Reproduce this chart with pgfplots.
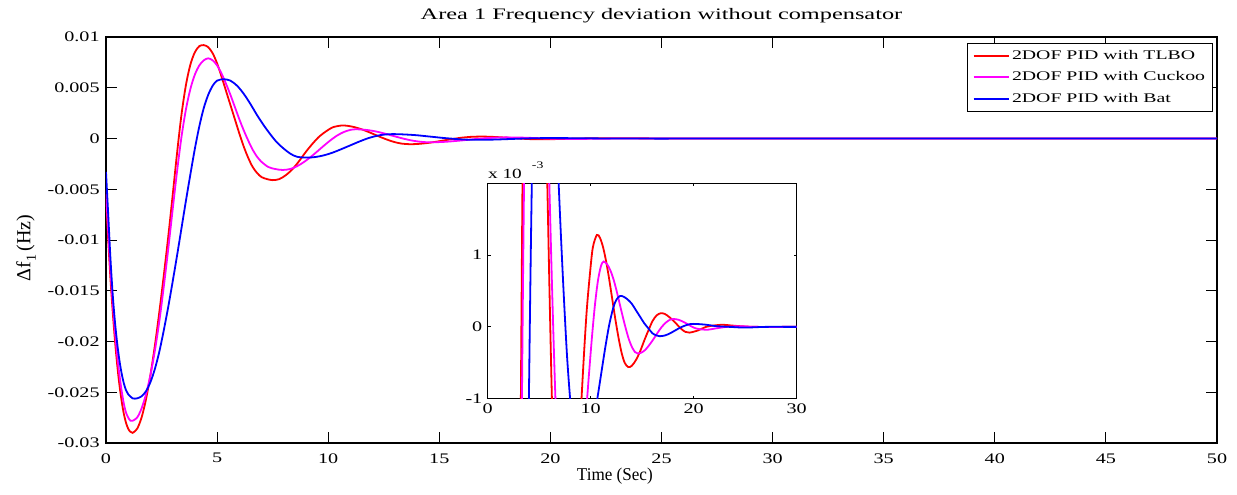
\documentclass[border=0pt]{standalone}
\usepackage{fontspec}
\setmainfont{Liberation Serif}
\newfontfamily\tickfont{Liberation Serif}[FakeStretch=1.38]
\newfontfamily\titlefont{Liberation Serif}[FakeStretch=1.52]
\newfontfamily\legfont{Liberation Serif}[FakeStretch=1.5]
\newfontfamily\xlabfont{Liberation Serif}[FakeStretch=0.95]
\usepackage{pgfplots}
\usepackage{pgfplotstable}
\pgfplotsset{compat=1.18}

\pgfplotstableread{
t v
0 -0.0055
0.1 -0.0100
0.2 -0.0138
0.3 -0.0170
0.4 -0.0198
0.5 -0.0222
0.6 -0.0242
0.7 -0.0258
0.8 -0.0271
0.9 -0.0280
1.0 -0.0286
1.1 -0.0289
1.2 -0.0290
1.4 -0.0286
1.6 -0.0275
1.8 -0.0257
2.0 -0.0233
2.2 -0.0204
2.4 -0.0171
2.6 -0.0135
2.8 -0.0097
3.0 -0.0056
3.2 -0.0014
3.4 0.0024
3.6 0.0053
3.8 0.0073
4.0 0.0085
4.2 0.0091
4.4 0.0092
4.6 0.0090
4.8 0.0084
5.0 0.0074
5.2 0.0061
5.4 0.0047
5.6 0.0033
5.8 0.0019
6.0 0.0005
6.2 -0.0008
6.4 -0.0019
6.6 -0.0028
6.8 -0.0034
7.0 -0.0038
7.25 -0.0040
7.5 -0.0041
7.8 -0.0040
8.1 -0.0036
8.4 -0.0030
8.7 -0.0022
9.0 -0.0013
9.3 -0.0005
9.6 0.0002
9.9 0.0007
10.2 0.0011
10.6 0.00128
10.9 0.00124
11.2 0.00111
11.5 0.00091
11.8 0.00066
12.1 0.00038
12.4 0.00010
12.7 -0.00015
13.0 -0.00036
13.3 -0.00050
13.65 -0.00056
14.0 -0.00054
14.4 -0.00046
14.8 -0.00034
15.2 -0.00019
15.6 -0.00005
16.0 0.00008
16.4 0.00016
16.8 0.00019
17.2 0.00018
17.6 0.00014
18.0 0.00009
18.4 0.00003
18.8 -0.00003
19.2 -0.00007
19.6 -0.00008
20.4 -0.00005
21.2 0.00000
22.0 0.00002
22.8 0.00003
23.6 0.00002
24.5 0.00001
26 0
30 0
35 0
40 0
45 0
50 0
}\redtab

\pgfplotstableread{
t v
0 -0.0050
0.1 -0.0092
0.2 -0.0130
0.3 -0.0161
0.4 -0.0189
0.5 -0.0213
0.6 -0.0232
0.7 -0.0248
0.8 -0.0261
0.9 -0.0270
1.0 -0.0275
1.1 -0.0278
1.2 -0.0278
1.4 -0.0275
1.6 -0.0266
1.8 -0.0252
2.0 -0.0233
2.2 -0.0209
2.4 -0.0180
2.6 -0.0146
2.8 -0.0109
3.0 -0.0070
3.2 -0.0032
3.4 0.0002
3.6 0.0029
3.8 0.0049
4.0 0.0063
4.2 0.0072
4.4 0.0077
4.6 0.0079
4.8 0.0077
5.0 0.0072
5.2 0.0064
5.4 0.0054
5.6 0.0043
5.8 0.0031
6.0 0.0019
6.2 0.0008
6.4 -0.0002
6.6 -0.0011
6.8 -0.0018
7.0 -0.0023
7.3 -0.0028
7.6 -0.0030
7.95 -0.0031
8.3 -0.0030
8.6 -0.00273
8.9 -0.00233
9.2 -0.00184
9.5 -0.00129
9.8 -0.00072
10.1 -0.00018
10.4 0.00029
10.7 0.00064
11.0 0.00085
11.25 0.00091
11.6 0.00087
11.9 0.00079
12.2 0.00067
12.5 0.00051
12.8 0.00033
13.1 0.00015
13.4 -0.00002
13.7 -0.00017
14.0 -0.00028
14.3 -0.00035
14.55 -0.00037
14.9 -0.00036
15.3 -0.00032
15.7 -0.00025
16.1 -0.00017
16.5 -0.00008
16.9 0.00000
17.3 0.00006
17.7 0.00010
18.0 0.00011
18.5 0.00010
19.0 0.00007
19.5 0.00003
20.0 -0.00001
20.5 -0.00003
21.3 -0.00004
22.2 -0.00002
23.2 0.00000
24.5 0.00001
26 0
30 0
35 0
40 0
45 0
50 0
}\magtab

\pgfplotstableread{
t v
0 -0.0033
0.1 -0.0075
0.2 -0.0118
0.3 -0.0153
0.4 -0.0180
0.5 -0.0201
0.6 -0.0218
0.7 -0.0231
0.8 -0.0241
0.9 -0.0248
1.0 -0.0252
1.2 -0.0256
1.4 -0.0256
1.6 -0.0254
1.8 -0.0249
2.0 -0.0240
2.2 -0.0227
2.4 -0.0210
2.6 -0.0189
2.8 -0.0166
3.0 -0.0141
3.2 -0.0115
3.4 -0.0088
3.6 -0.0061
3.8 -0.0035
4.0 -0.0010
4.2 0.0012
4.4 0.0030
4.6 0.0043
4.8 0.0052
5.0 0.0057
5.3 0.00584
5.6 0.0057
5.9 0.0052
6.2 0.0044
6.5 0.0034
6.8 0.0023
7.1 0.0013
7.4 0.0004
7.7 -0.0004
8.0 -0.0010
8.3 -0.0015
8.6 -0.0018
9.03 -0.00188
9.4 -0.00183
9.8 -0.00166
10.2 -0.00139
10.6 -0.00104
11.0 -0.00067
11.4 -0.00030
11.8 0.00003
12.2 0.00027
12.5 0.00038
12.85 0.00043
13.2 0.00042
13.6 0.00038
14.0 0.00032
14.4 0.00023
14.8 0.00014
15.2 0.00005
15.6 -0.00002
16.0 -0.00009
16.4 -0.00012
16.7 -0.00013
17.2 -0.00012
17.7 -0.00009
18.2 -0.00005
18.7 -0.00001
19.2 0.00002
19.7 0.00004
20.3 0.00004
21.2 0.00003
22.2 0.00001
23.5 0.00000
25 -0.00001
27 0
30 0
35 0
40 0
45 0
50 0
}\bluetab

\begin{document}
\begin{tikzpicture}
\useasboundingbox (-53pt,-25.5pt) rectangle (565.5pt,221.5pt);
\begin{axis}[
  at={(0pt,0pt)}, anchor=south west,
  scale only axis, width=555.5pt, height=203pt,
  clip mode=individual,
  xmin=0, xmax=50, ymin=-0.03, ymax=0.01,
  scaled x ticks=false, scaled y ticks=false,
  xtick={0,5,10,15,20,25,30,35,40,45,50},
  xticklabels={0,5,10,15,20,25,30,35,40,45,50},
  ytick={-0.03,-0.025,-0.02,-0.015,-0.01,-0.005,0,0.005,0.01},
  yticklabels={-0.03,-0.025,-0.02,-0.015,-0.01,-0.005,0,0.005,0.01},
  tick align=inside, major tick length=5.5pt,
  tick style={black, line width=0.45pt},
  axis line style={black, line width=0.8pt},
  ticklabel style={font=\tickfont\fontsize{7.3}{8}\selectfont},
  xticklabel style={inner sep=0pt, yshift=-5pt},
  yticklabel style={inner sep=0pt, xshift=-3pt},
  legend style={at={(rel axis cs:0.9964,0.986)}, anchor=north east,
    draw=black, line width=0.5pt, fill=white,
    font=\legfont\fontsize{6.6}{7}\selectfont,
    inner xsep=2.5pt, inner ysep=0.8pt, row sep=0pt,
    nodes={inner ysep=2.2pt, inner xsep=1.2pt, text height=5pt, text depth=1.5pt}},
  legend cell align=left,
  legend image code/.code={\draw[#1, line width=1pt] (0pt,0pt) -- (17.5pt,0pt);},
]
\addplot[color={rgb,1:red,1;green,0;blue,0}, line width=0.9pt, smooth] table[x=t,y=v] {\redtab};
\addlegendentry{2DOF PID with TLBO}
\addplot[color={rgb,1:red,1;green,0;blue,1}, line width=0.9pt, smooth] table[x=t,y=v] {\magtab};
\addlegendentry{2DOF PID with Cuckoo}
\addplot[color={rgb,1:red,0;green,0;blue,1}, line width=0.9pt, smooth] table[x=t,y=v] {\bluetab};
\addlegendentry{2DOF PID with Bat}
\path (rel axis cs:0.5,1) ++(0pt,9pt) node[anchor=base, inner sep=0pt, font=\titlefont\fontsize{8}{9}\selectfont] {Area 1 Frequency deviation without compensator};
\path (rel axis cs:0.458,0) ++(0pt,-18.5pt) node[anchor=base, inner sep=0pt, font=\xlabfont\fontsize{9}{10}\selectfont] {Time (Sec)};
\path (rel axis cs:0,0.48) ++(-40pt,0pt) node[rotate=90, anchor=center, inner sep=0pt, font=\fontsize{10}{11}\selectfont] {Δf\raisebox{-0.6ex}{\fontsize{7}{8}\selectfont 1}\,(Hz)};
\end{axis}
\begin{axis}[
  at={(190.85pt,22.15pt)}, anchor=south west,
  scale only axis, width=154.5pt, height=107.7pt,
  clip mode=individual,
  xmin=0, xmax=30, ymin=-0.001, ymax=0.002,
  scaled x ticks=false, scaled y ticks=false,
  xtick={0,10,20,30}, xticklabels={0,10,20,30},
  ytick={-0.001,0,0.001,0.002}, yticklabels={-1,0,1,{}},
  tick align=inside, major tick length=1.5pt,
  tick style={black, line width=0.4pt},
  axis line style={black, line width=0.5pt},
  axis background/.style={fill=white},
  ticklabel style={font=\tickfont\fontsize{7.3}{8}\selectfont},
  xticklabel style={inner sep=0pt, yshift=-2.2pt},
  yticklabel style={inner sep=0pt, xshift=-2.5pt},
]
\addplot[color={rgb,1:red,1;green,0;blue,0}, line width=0.9pt, smooth] table[x=t,y=v] {\redtab};
\addplot[color={rgb,1:red,1;green,0;blue,1}, line width=0.9pt, smooth] table[x=t,y=v] {\magtab};
\addplot[color={rgb,1:red,0;green,0;blue,1}, line width=0.9pt, smooth] table[x=t,y=v] {\bluetab};
\path (rel axis cs:0,1) ++(0pt,2.6pt) node[anchor=base west, inner sep=0pt, font=\tickfont\fontsize{7}{8}\selectfont] {x 10\hspace{5pt}\raisebox{5pt}{\fontsize{5}{6}\selectfont -3}};
\end{axis}
\end{tikzpicture}
\end{document}
